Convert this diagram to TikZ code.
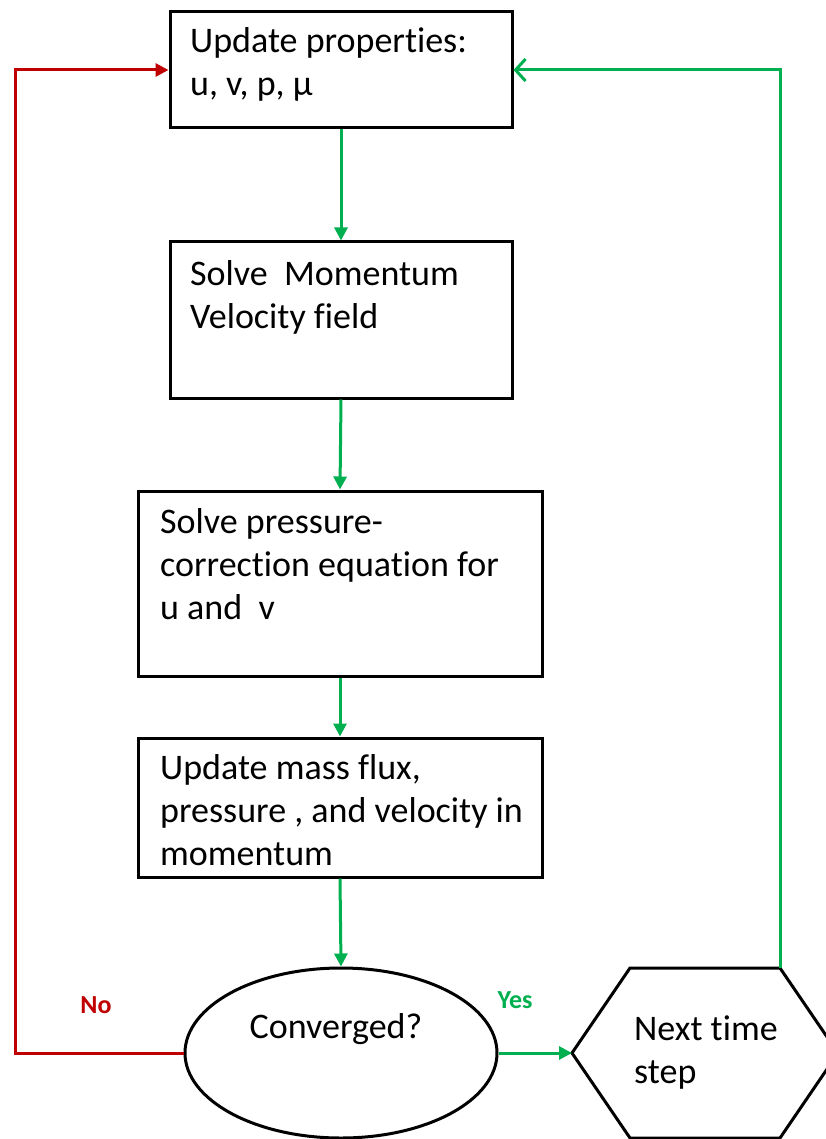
\documentclass[tikz,border=0pt]{standalone}
\usepackage{fontspec}
\setmainfont{Carlito}[RawFeature={-liga;-clig;-calt;-dlig}]
\usetikzlibrary{arrows.meta,shapes.geometric}

\definecolor{okgreen}{RGB}{0,176,80}
\definecolor{nored}{RGB}{192,0,0}

\tikzset{
  procbox/.style={draw=black,line width=3,rectangle,inner sep=0},
  boxtext/.style={anchor=base west,align=left,inner sep=0,font=\fontsize{36}{43}\selectfont},
  flowgo/.style={draw=okgreen,line width=3,-{Triangle[length=13,width=13]}},
  flowback/.style={draw=nored,line width=3,-{Triangle[length=13,width=13]}},
  flownext/.style={draw=okgreen,line width=3,-{Straight Barb[length=10,width=22,line width=3]}},
  tag/.style={inner sep=0,font=\fontsize{26}{30}\selectfont\bfseries}
}

\begin{document}
\begin{tikzpicture}[x=1pt,y=-1pt]
  \useasboundingbox (0,0) rectangle (826,1139);

  % text nodes sit on the baseline of their last line
  %Shape: Rectangle [update]
  \node [procbox,minimum width=342,minimum height=116] (upd) at (341,70) {};
  \node [boxtext] (updtext) at (190,96) {Update properties:\\u, v, p, \textmu};
  %Shape: Rectangle [momentum]
  \node [procbox,minimum width=342,minimum height=156] (mom) at (341,320) {};
  \node [boxtext] (momtext) at (190,328) {Solve\ \ Momentum\\Velocity field};
  %Shape: Rectangle [pressure]
  \node [procbox,minimum width=404,minimum height=185] (pres) at (340,583.5) {};
  \node [boxtext] (prestext) at (160,619) {Solve pressure-\\correction equation for\\u and\ \ v};
  %Shape: Rectangle [flux]
  \node [procbox,minimum width=404,minimum height=139] (flux) at (340,807.5) {};
  \node [boxtext] (fluxtext) at (160,865) {Update mass flux,\\pressure , and velocity in\\momentum};

  %Shape: Ellipse [converged]
  \node [draw=black,line width=3,ellipse,minimum width=312,minimum height=170,inner sep=0] (conv) at (341,1053) {};
  \node [inner sep=0,anchor=base,font=\fontsize{36}{43}\selectfont] (convtext) at (336,1038) {Converged?};

  %Shape: Hexagon [next step]
  \coordinate (hexW) at (572,1053);
  \coordinate (hexNW) at (630,968);
  \coordinate (hexNE) at (780,968);
  \coordinate (hexE) at (838,1053);
  \coordinate (hexSE) at (780,1138);
  \coordinate (hexSW) at (630,1138);
  \draw [line width=3,line join=miter] (hexW) -- (hexNW) -- (hexNE) -- (hexE) -- (hexSE) -- (hexSW) -- cycle;
  \node [boxtext] (nexttext) at (634,1083) {Next time\\step};

  %Straight Lines [main flow]
  \draw [flowgo] (upd.south) -- (mom.north);
  \draw [flowgo] (mom.south) -- (pres.north);
  \draw [flowgo] (pres.south) -- (flux.north);
  \draw [flowgo] (flux.south) -- (conv.north);
  \draw [flowgo] (conv.east) -- (hexW);

  %Straight Lines [loops]
  \draw [flowback] (conv.west) -- (15,1053) -- (15,70) -- (upd.west);
  \draw [flownext] (hexNE) -- (780,70) -- (upd.east);

  % Text Node
  \node [tag,text=nored] (notag) at (96,1005) {No};
  % Text Node
  \node [tag,text=okgreen] (yestag) at (515,1000) {Yes};

\end{tikzpicture}
\end{document}
